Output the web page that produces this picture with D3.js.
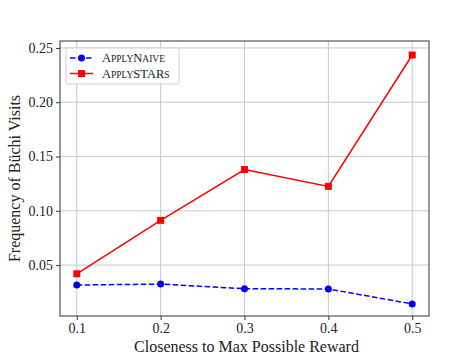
<!DOCTYPE html>
<html><head><meta charset="utf-8">
<script src="https://cdn.jsdelivr.net/npm/d3@7"></script>
<style>body{margin:0;background:#fff}svg{display:block}</style>
</head><body><svg id="c" width="476" height="357"></svg>
<script>
const xValues = [0.1, 0.2, 0.3, 0.4, 0.5];
const naive = [0.0316, 0.0325, 0.0282, 0.0280, 0.0142];
const stars = [0.0420, 0.0912, 0.1380, 0.1225, 0.2435];
const xTicks = [0.1, 0.2, 0.3, 0.4, 0.5];
const yTicks = [0.05, 0.10, 0.15, 0.20, 0.25];
const FONT = "'Liberation Serif', 'Times New Roman', Tinos, 'DejaVu Serif', serif";

const svg = d3.select("#c");
const L = 60, R = 429, T = 41, B = 316;
const x = d3.scaleLinear().domain([0.08, 0.52]).range([L, R]);
const y = d3.scaleLinear().domain([0.0031, 0.2564]).range([B, T]);

const g = svg.append("g");
g.selectAll(".gx").data(xTicks).enter().append("line")
  .attr("x1", d => x(d)).attr("x2", d => x(d)).attr("y1", T).attr("y2", B)
  .attr("stroke", "#c8c8c8").attr("stroke-width", 1);
g.selectAll(".gy").data(yTicks).enter().append("line")
  .attr("y1", d => y(d)).attr("y2", d => y(d)).attr("x1", L).attr("x2", R)
  .attr("stroke", "#c8c8c8").attr("stroke-width", 1);

const xAxis = d3.axisBottom(x).tickValues(xTicks).tickFormat(d3.format(".1f")).tickSize(4).tickPadding(3);
const yAxis = d3.axisLeft(y).tickValues(yTicks).tickFormat(d3.format(".2f")).tickSize(4).tickPadding(3);
const gx = svg.append("g").attr("transform", `translate(0,${B})`).call(xAxis);
const gy = svg.append("g").attr("transform", `translate(${L},0)`).call(yAxis);
[gx, gy].forEach(a => {
  a.attr("font-family", null).attr("font-size", null);
  a.select(".domain").remove();
  a.selectAll("line").attr("stroke", "#333");
  a.selectAll("text").attr("font-size", 14).attr("fill", "#222").style("font-family", FONT);
});

svg.append("rect").attr("x", L).attr("y", T).attr("width", R - L).attr("height", B - T)
  .attr("fill", "none").attr("stroke", "#333").attr("stroke-width", 1);

const line = d3.line().x((d, i) => x(xValues[i])).y(d => y(d));
svg.append("path").datum(naive).attr("d", line).attr("fill", "none")
  .attr("stroke", "#0000ff").attr("stroke-width", 1.5).attr("stroke-dasharray", "5.5,2.5");
svg.selectAll(".pn").data(naive).enter().append("circle")
  .attr("cx", (d, i) => x(xValues[i])).attr("cy", d => y(d)).attr("r", 3.5).attr("fill", "#0000ff");
svg.append("path").datum(stars).attr("d", line).attr("fill", "none")
  .attr("stroke", "#ff0000").attr("stroke-width", 1.5);
svg.selectAll(".ps").data(stars).enter().append("rect")
  .attr("x", (d, i) => x(xValues[i]) - 3.5).attr("y", d => y(d) - 3.5)
  .attr("width", 7).attr("height", 7).attr("fill", "#ff0000");

const lg = svg.append("g");
lg.append("rect").attr("x", 66).attr("y", 48).attr("width", 113).attr("height", 36).attr("rx", 2)
  .attr("fill", "#fff").attr("fill-opacity", 0.8).attr("stroke", "#d0d0d0");
const items = [
  {parts: [["A", 12.5], ["PPLY", 9.5], ["N", 12.5], ["AIVE", 9.5]], color: "#0000ff", dash: "5.5,2.5", mark: "circle"},
  {parts: [["A", 12.5], ["PPLY", 9.5], ["STAR", 12.5], ["S", 9.5]], color: "#ff0000", dash: null, mark: "square"}
];
items.forEach((it, i) => {
  const yy = 58 + i * 15.5;
  lg.append("line").attr("x1", 70).attr("x2", 93).attr("y1", yy).attr("y2", yy)
    .attr("stroke", it.color).attr("stroke-width", 1.5).attr("stroke-dasharray", it.dash);
  if (it.mark === "circle") lg.append("circle").attr("cx", 81.5).attr("cy", yy).attr("r", 3.5).attr("fill", it.color);
  else lg.append("rect").attr("x", 78).attr("y", yy - 3.5).attr("width", 7).attr("height", 7).attr("fill", it.color);
  const t = lg.append("text").attr("x", 102).attr("y", yy + 4).attr("fill", "#222").style("font-family", FONT);
  it.parts.forEach(p => t.append("tspan").attr("font-size", p[1]).text(p[0]));
});

svg.append("text").attr("x", (L + R) / 2 + 2).attr("y", 352).attr("text-anchor", "middle")
  .attr("font-size", 16).attr("fill", "#222").style("font-family", FONT).text("Closeness to Max Possible Reward");
svg.append("text").attr("transform", `translate(20,${(T + B) / 2}) rotate(-90)`).attr("text-anchor", "middle")
  .attr("font-size", 16).attr("fill", "#222").style("font-family", FONT).text("Frequency of Büchi Visits");
</script></body></html>
